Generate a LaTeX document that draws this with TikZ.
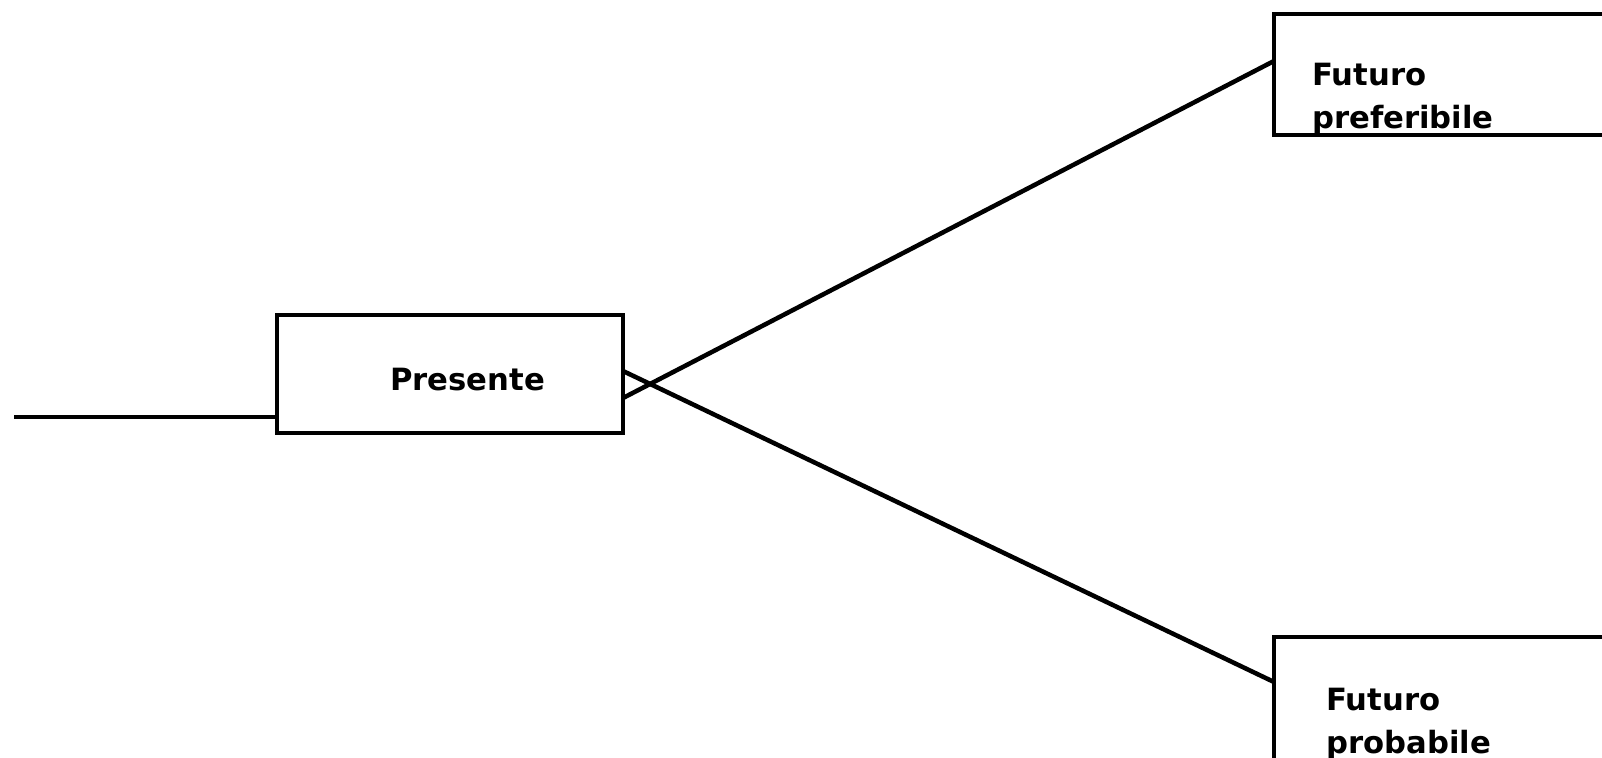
\documentclass[tikz,border=0pt]{standalone}
\usepackage{fontspec}
\setmainfont{DejaVu Sans}
\begin{document}
\begin{tikzpicture}[x=0.75pt,y=-0.75pt,
  box/.style={draw=black,line width=3.4pt,inner sep=0pt,outer sep=0pt},
  lbl/.style={inner sep=0pt,anchor=base west,font=\fontsize{23}{27}\selectfont\bfseries},
  conn/.style={draw=black,line width=3.4pt}]
\useasboundingbox (0,0) rectangle (1602,757);
\clip (0,0) rectangle (1602,757);
% text
\node[lbl] (tPres) at (390,390) {Presente};
\node[lbl] (tF1) at (1312,85) {Futuro};
\node[lbl] (tF2) at (1312,128) {preferibile};
\node[lbl] (tP1) at (1326,710) {Futuro};
\node[lbl] (tP2) at (1326,753) {probabile};
% boxes
\node[box,minimum width=259.5pt,minimum height=88.5pt] (pres) at (450,374) {};
\node[box,minimum width=319.5pt,minimum height=90.75pt] (pref) at (1487,74.5) {};
\node[box,minimum width=319.5pt,minimum height=122.25pt] (prob) at (1487,718.5) {};
% connectors
\coordinate (start) at (14,417);
\draw[conn] (start) -- (pres.west |- start);
\draw[conn] (pres.east |- 0,398) -- (pref.west |- 0,61);
\draw[conn] (pres.east |- 0,371) -- (prob.west |- 0,682);
\end{tikzpicture}
\end{document}
